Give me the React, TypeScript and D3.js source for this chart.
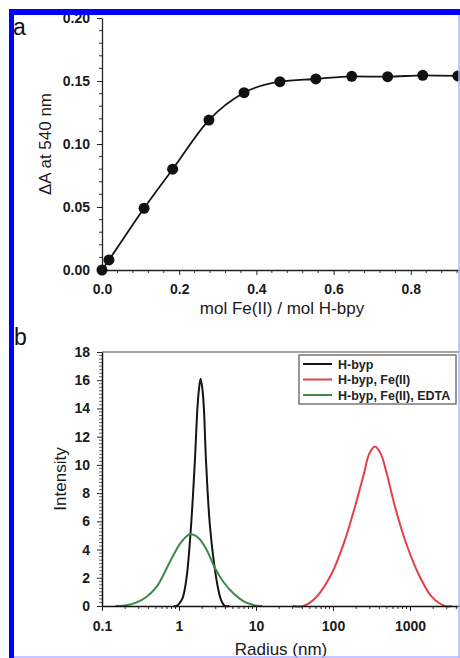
import React, { useEffect, useRef } from "react";
import * as d3 from "d3";

// panel a: titration, ΔA at 540 nm vs mol Fe(II) / mol H-bpy
const ratioFe = [0, 0.018, 0.109, 0.183, 0.277, 0.368, 0.461, 0.554, 0.647, 0.74, 0.831, 0.922];
const deltaA = [0, 0.008, 0.049, 0.08, 0.119, 0.1407, 0.1495, 0.1516, 0.1537, 0.1534, 0.1545, 0.154];
const ticksAx = [0, 0.2, 0.4, 0.6, 0.8];
const ticksAy = [0, 0.05, 0.1, 0.15, 0.2];

// panel b: size distributions (radius in nm, intensity)
const radiusHbyp = [0.85, 0.93, 1.0, 1.12, 1.26, 1.43, 1.61, 1.73, 1.82, 1.91, 2.02, 2.11, 2.24, 2.53, 3.02, 3.39, 3.6, 3.95, 4.5];
const intHbyp = [0, 0, 0.15, 0.6, 2.1, 5.6, 10.35, 13.9, 15.4, 16.1, 15.3, 13.9, 10.35, 5.6, 2.1, 0.7, 0.3, 0, 0];
const radiusFe = [30, 41.2, 61.4, 96.2, 143, 193, 253, 296, 351, 416, 498, 638, 861, 1282, 1914, 2851, 3500];
const intFe = [0, 0, 0.66, 2.3, 4.68, 7.04, 9.4, 10.8, 11.3, 10.8, 9.4, 7.04, 4.68, 2.3, 0.66, 0, 0];
const radiusEdta = [0.15, 0.209, 0.282, 0.381, 0.513, 0.658, 0.844, 1.08, 1.39, 1.78, 2.29, 2.94, 3.76, 5.07, 6.84, 9.23, 12];
const intEdta = [0, 0.05, 0.26, 0.66, 1.37, 2.43, 3.6, 4.56, 5.08, 4.84, 3.97, 2.67, 1.72, 0.9, 0.35, 0.07, 0];
const ticksBx = [0.1, 1, 10, 100, 1000];
const ticksBy = [0, 2, 4, 6, 8, 10, 12, 14, 16, 18];
const seriesNames = ["H-byp", "H-byp, Fe(II)", "H-byp, Fe(II), EDTA"];
const seriesColors = ["#151515", "#e5404a", "#3b8a48"];

const FONT = "'Liberation Sans', Arial, sans-serif";

export default function App() {
  const ref = useRef<SVGSVGElement>(null);

  useEffect(() => {
    const svg = d3.select(ref.current);
    svg.selectAll("*").remove();
    svg.append("rect").attr("width", 460).attr("height", 658).attr("fill", "#fff");

    // ---------- panel a ----------
    const xA = d3.scaleLinear().domain([0, 1]).range([102, 488]);
    const yA = d3.scaleLinear().domain([0, 0.2]).range([270, 18]);

    const minorAy = d3.range(0, 0.2001, 0.01).filter(v => Math.abs(Math.round(v * 20) - v * 20) > 1e-6);
    svg.append("g").selectAll("line").data(minorAy).enter().append("line")
      .attr("x1", xA(0)).attr("x2", xA(0) - 3)
      .attr("y1", d => yA(d)).attr("y2", d => yA(d))
      .attr("stroke", "#333").attr("stroke-width", 1);
    const minorAx = d3.range(0, 1.001, 0.04).filter(v => Math.abs(Math.round(v * 5) - v * 5) > 1e-6);
    svg.append("g").selectAll("line").data(minorAx).enter().append("line")
      .attr("x1", d => xA(d)).attr("x2", d => xA(d))
      .attr("y1", yA(0)).attr("y2", yA(0) + 3)
      .attr("stroke", "#333").attr("stroke-width", 1);

    const axisAy = svg.append("g").attr("transform", `translate(${xA(0)},0)`)
      .call(d3.axisLeft(yA).tickValues(ticksAy).tickFormat(d3.format(".2f")).tickSize(5).tickSizeOuter(0).tickPadding(7));
    const axisAx = svg.append("g").attr("transform", `translate(0,${yA(0)})`)
      .call(d3.axisBottom(xA).tickValues(ticksAx).tickFormat(d3.format(".1f")).tickSize(5).tickSizeOuter(0).tickPadding(9));
    [axisAy, axisAx].forEach(ax => {
      ax.selectAll("text").attr("font-family", FONT).attr("font-size", 14).attr("font-weight", "bold").attr("fill", "#1a1a1a");
      ax.select(".domain").attr("stroke", "#222").attr("stroke-width", 1.3);
      ax.selectAll(".tick line").attr("stroke", "#222");
    });

    const ptsA = ratioFe.map((x, i) => [x, deltaA[i]] as [number, number]);
    svg.append("path")
      .attr("d", d3.line().x(d => xA(d[0])).y(d => yA(d[1])).curve(d3.curveMonotoneX)(ptsA))
      .attr("fill", "none").attr("stroke", "#151515").attr("stroke-width", 1.8);
    svg.append("g").selectAll("circle").data(ptsA).enter().append("circle")
      .attr("cx", d => xA(d[0])).attr("cy", d => yA(d[1])).attr("r", 5.5).attr("fill", "#111");

    svg.append("text")
      .attr("transform", `translate(51,${(yA(0) + yA(0.2)) / 2}) rotate(-90)`)
      .attr("text-anchor", "middle").attr("font-family", FONT).attr("font-size", 17).attr("fill", "#1a1a1a")
      .text("ΔA at 540 nm");
    svg.append("text")
      .attr("x", 282).attr("y", 314).attr("text-anchor", "middle")
      .attr("font-family", FONT).attr("font-size", 17).attr("fill", "#1a1a1a")
      .text("mol Fe(II) / mol H-bpy");
    svg.append("text").attr("x", 13).attr("y", 35)
      .attr("font-family", FONT).attr("font-size", 23).attr("fill", "#111").text("a");

    // ---------- panel b ----------
    const xB = d3.scaleLog().domain([0.1, 10000]).range([102, 487]);
    const yB = d3.scaleLinear().domain([0, 18]).range([606, 352]);

    svg.append("line")
      .attr("x1", xB(0.1)).attr("x2", 460).attr("y1", yB(18)).attr("y2", yB(18))
      .attr("stroke", "#888").attr("stroke-width", 1.5);

    const minorBy = d3.range(0, 18.001, 0.25).filter(v => Math.abs(v / 2 - Math.round(v / 2)) > 1e-6);
    svg.append("g").selectAll("line").data(minorBy).enter().append("line")
      .attr("x1", xB(0.1)).attr("x2", xB(0.1) - 3)
      .attr("y1", d => yB(d)).attr("y2", d => yB(d))
      .attr("stroke", "#444").attr("stroke-width", 0.8);
    const minorBx: number[] = [];
    [0.1, 1, 10, 100, 1000].forEach(dec => d3.range(2, 10).forEach(m => minorBx.push(dec * m)));
    svg.append("g").selectAll("line").data(minorBx).enter().append("line")
      .attr("x1", d => xB(d)).attr("x2", d => xB(d))
      .attr("y1", yB(0)).attr("y2", yB(0) + 3)
      .attr("stroke", "#333").attr("stroke-width", 1);

    const curves = [
      radiusHbyp.map((r, i) => [r, intHbyp[i]] as [number, number]),
      radiusFe.map((r, i) => [r, intFe[i]] as [number, number]),
      radiusEdta.map((r, i) => [r, intEdta[i]] as [number, number]),
    ];
    const lineB = d3.line<[number, number]>().x(d => xB(d[0])).y(d => Math.min(yB(0), yB(d[1])))
      .curve(d3.curveCatmullRom.alpha(0.5));
    curves.forEach((c, i) => {
      svg.append("path").attr("d", lineB(c)).attr("fill", "none")
        .attr("stroke", seriesColors[i]).attr("stroke-width", 2);
    });

    const axisBy = svg.append("g").attr("transform", `translate(${xB(0.1)},0)`)
      .call(d3.axisLeft(yB).tickValues(ticksBy).tickFormat(d3.format("d")).tickSize(5).tickSizeOuter(0).tickPadding(7));
    const axisBx = svg.append("g").attr("transform", `translate(0,${yB(0)})`)
      .call(d3.axisBottom(xB).tickValues(ticksBx).tickFormat(d => String(d)).tickSize(5).tickSizeOuter(0).tickPadding(10));
    [axisBy, axisBx].forEach(ax => {
      ax.selectAll("text").attr("font-family", FONT).attr("font-size", 14).attr("font-weight", "bold").attr("fill", "#1a1a1a");
      ax.select(".domain").attr("stroke", "#111").attr("stroke-width", 1.5);
      ax.selectAll(".tick line").attr("stroke", "#222");
    });

    svg.append("text")
      .attr("transform", `translate(66,${(yB(0) + yB(18)) / 2}) rotate(-90)`)
      .attr("text-anchor", "middle").attr("font-family", FONT).attr("font-size", 17).attr("fill", "#1a1a1a")
      .text("Intensity");
    svg.append("text")
      .attr("x", 281).attr("y", 655).attr("text-anchor", "middle")
      .attr("font-family", FONT).attr("font-size", 17).attr("fill", "#1a1a1a")
      .text("Radius (nm)");
    svg.append("text").attr("x", 14).attr("y", 345)
      .attr("font-family", FONT).attr("font-size", 23).attr("fill", "#111").text("b");

    // legend
    const lg = svg.append("g").attr("transform", "translate(299,355)");
    lg.append("rect").attr("width", 157).attr("height", 49)
      .attr("fill", "#fff").attr("stroke", "#777").attr("stroke-width", 1.5);
    seriesNames.forEach((name, i) => {
      const y = 9 + i * 15.5;
      lg.append("line").attr("x1", 4).attr("x2", 33).attr("y1", y).attr("y2", y)
        .attr("stroke", seriesColors[i]).attr("stroke-width", 2);
      lg.append("text").attr("x", 39).attr("y", y + 4.5)
        .attr("font-family", FONT).attr("font-size", 12.5).attr("font-weight", "bold").attr("fill", "#222")
        .text(name);
    });

    // frame of the cropped figure
    svg.append("rect").attr("x", 9).attr("y", 9).attr("width", 5).attr("height", 649).attr("fill", "#0000ff");
    svg.append("rect").attr("x", 9).attr("y", 9).attr("width", 451).attr("height", 6).attr("fill", "#0000ff");
    svg.append("line").attr("x1", 459).attr("x2", 459).attr("y1", 15).attr("y2", 658)
      .attr("stroke", "#b4b4ff").attr("stroke-width", 1.5);
    svg.append("line").attr("x1", 14).attr("x2", 460).attr("y1", 657).attr("y2", 657)
      .attr("stroke", "#b4b4ff").attr("stroke-width", 1.5);
  }, []);

  return (
    <svg ref={ref} width={460} height={658}
      style={{ position: "absolute", left: 0, top: 0, display: "block" }} />
  );
}
